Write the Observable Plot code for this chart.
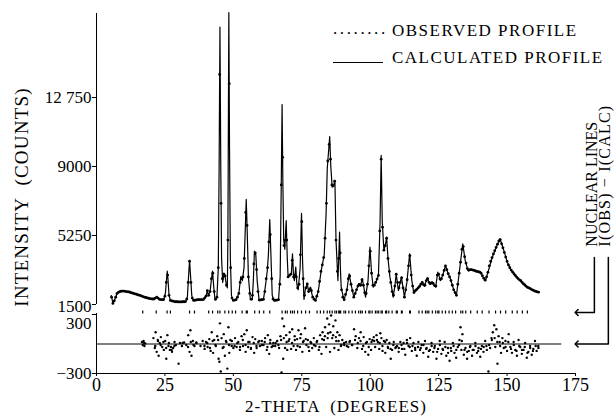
<!DOCTYPE html>
<html>
<head>
<meta charset="utf-8">
<script src="https://cdn.jsdelivr.net/npm/d3@7"></script>
<script src="https://cdn.jsdelivr.net/npm/@observablehq/plot@0.6"></script>
<style>
  html, body { margin: 0; padding: 0; background: #fff; }
  #chart { position: relative; width: 614px; height: 420px; font-family: "Liberation Serif", serif; color: #000; }
  #chart svg { position: absolute; left: 0; top: 0; background: transparent; }
  .leg { position: absolute; font-size: 17px; letter-spacing: 1.5px; line-height: 17px; white-space: pre; }
</style>
</head>
<body>
<div id="chart">
  <div class="leg" style="left:333px; top:20px; letter-spacing:2.6px;">........</div>
  <div class="leg" style="left:392px; top:22px;">OBSERVED PROFILE</div>
  <div style="position:absolute; left:333px; top:62px; width:50px; border-top:1px solid #000;"></div>
  <div class="leg" style="left:392px; top:49px;">CALCULATED PROFILE</div>
</div>
<script>
// ---- Data ----
// Calculated profile: [2-theta (deg), intensity (counts)]
const calcProfile = [
  [5.4,1990],[6.0,1560],[6.5,1700],[7.5,2100],[8.5,2200],[10.0,2230],[12.0,2180],[14.0,2080],
  [16.0,1990],[18.0,1880],[19.7,1810],[21.2,1800],[21.8,1900],[22.3,1880],[23.0,1780],[24.6,1760],
  [25.2,2150],[25.6,2900],[25.85,3310],[26.1,2900],[26.5,2000],[27.0,1720],[29.0,1650],[31.0,1640],
  [32.5,1660],[33.2,1900],[33.7,3200],[34.0,3890],[34.3,3200],[34.8,2000],[35.3,1720],[37.0,1760],
  [39.0,1770],[40.0,1950],[40.5,2260],[40.9,2000],[41.5,2200],[42.0,2900],[42.4,3310],[42.8,2500],
  [43.3,1750],[44.0,1900],[44.5,3500],[44.8,9000],[45.1,16570],[45.4,9000],[45.7,4000],[46.1,2700],
  [46.6,3200],[46.9,3100],[47.4,2600],[47.8,2400],[48.0,5000],[48.2,12000],[48.35,17370],[48.6,10000],
  [48.9,4000],[49.3,2000],[49.8,1720],[51.0,1760],[52.0,2100],[52.7,3000],[53.3,2800],[53.9,3500],
  [54.4,5800],[54.7,7210],[55.0,5800],[55.5,3000],[56.2,1800],[56.9,1760],[57.3,2800],[57.7,4400],
  [57.9,4300],[58.2,4200],[58.7,2800],[59.4,1740],[61.0,1780],[61.8,2600],[62.4,3350],[62.8,4200],
  [63.3,6120],[63.7,4300],[64.2,2000],[64.8,1720],[66.5,1760],[67.1,3000],[67.5,8000],[67.8,12370],
  [68.1,8000],[68.4,5000],[68.8,4500],[69.3,6065],[69.7,4000],[70.0,3000],[70.6,3100],[71.2,3200],
  [71.6,4255],[72.0,3000],[72.3,2800],[72.8,3530],[73.2,2600],[73.7,2300],[74.4,3500],[74.9,6460],
  [75.3,3800],[75.8,1780],[76.3,2300],[77.0,2625],[77.5,2200],[78.2,2440],[78.8,2000],[80.0,1720],
  [81.0,2200],[82.1,3350],[83.2,4200],[83.9,6500],[84.3,8875],[85.2,10630],[85.6,9000],[86.1,7875],
  [86.7,8000],[87.1,8240],[87.5,5000],[88.2,2800],[88.5,4000],[88.8,5430],[89.1,3500],[89.4,2440],
  [90.4,1720],[91.5,2300],[92.3,3170],[93.0,2600],[94.0,1900],[95.0,2300],[95.8,2625],[96.4,2500],
  [97.1,2900],[97.7,2400],[98.3,1900],[99.2,2800],[99.9,4615],[100.5,3200],[101.1,2440],[102.3,2800],
  [103.0,3080],[103.6,6000],[104.0,9600],[104.4,6000],[105.0,4435],[105.6,4800],[106.0,5160],[106.5,4000],
  [107.2,3000],[108.4,1900],[109.0,2500],[109.5,3170],[110.3,2260],[111.4,3000],[112.0,2400],[112.5,1900],
  [113.4,2700],[114.4,4255],[115.2,2800],[115.9,2150],[116.8,2300],[117.8,2440],[119.0,2710],[119.8,2480],
  [120.8,2950],[121.8,2600],[122.7,2710],[123.9,2440],[124.7,3255],[125.7,2800],[126.5,3100],[127.5,3620],
  [128.4,3200],[129.3,2900],[130.5,2300],[131.5,1990],[132.5,3200],[133.8,4800],[134.7,3900],[135.7,3350],
  [136.8,3400],[137.9,3350],[139.0,3300],[140.3,3255],[141.2,3000],[142.1,2800],[143.3,3400],[144.6,4070],
  [146.0,4600],[147.4,5070],[148.7,4500],[150.1,3800],[151.3,3400],[152.5,3170],[153.7,2950],[154.9,2800],
  [156.1,2600],[157.4,2440],[158.6,2350],[159.8,2260],[160.7,2200],[161.6,2170]
];

// Observed profile: counts on a 2-theta grid starting at 5.5 deg, 0.5 deg apart
const obsStart = 5.5;
const obsStep = 0.5;
const obsCounts = [
  1900,1560,1700,1900,2100,2160,2200,2220,2230,2230,   // 5.5 - 10.0
  2210,2200,2190,2180,2150,2130,2100,2080,2060,2030,   // 10.5 - 15.0
  2010,1990,1960,1930,1900,1880,1860,1840,1820,1810,   // 15.5 - 20.0
  1800,1800,1850,1900,1850,1780,1770,1760,1770,1950,   // 20.5 - 25.0
  2700,3100,2000,1720,1700,1680,1660,1650,1650,1640,   // 25.5 - 30.0
  1640,1640,1650,1650,1660,1800,2700,3850,2700,1850,   // 30.5 - 35.0
  1720,1730,1750,1760,1760,1770,1770,1770,1850,1950,   // 35.5 - 40.0
  2250,2000,2200,2900,3200,2200,1780,1900,3500,14000,  // 40.5 - 45.0
  7000,2900,3150,3050,2550,5000,13500,3500,1850,1720,  // 45.5 - 50.0
  1740,1760,1900,2100,2700,2950,3000,4000,6500,5800,   // 50.5 - 55.0
  3000,2100,1780,2000,3700,4300,3400,2200,1740,1750,   // 55.5 - 60.0
  1770,1780,2200,2900,3500,4900,5300,2900,1800,1720,   // 60.5 - 65.0
  1730,1740,1760,2600,8000,9500,4700,5000,5000,3000,   // 65.5 - 70.0
  3080,3150,3900,3000,3100,3000,2400,2600,4200,6000,   // 70.5 - 75.0
  2900,2000,2400,2620,2200,2350,2250,1900,1780,1720,   // 75.5 - 80.0
  1950,2200,2750,3300,3650,4050,5100,7000,9300,10200,  // 80.5 - 85.0
  9400,8000,7950,8200,5000,3300,4000,4300,2300,1900,   // 85.5 - 90.0
  1760,2050,2300,2900,3050,2600,2250,1900,2100,2300,   // 90.5 - 95.0
  2500,2590,2550,2850,2550,2150,2100,2600,3600,4400,   // 95.5 - 100.0
  3200,2550,2550,2700,2880,3080,5500,9400,5700,4450,   // 100.5 - 105.0
  4700,5100,4000,3300,2700,2200,2000,2500,3150,2700,   // 105.5 - 110.0
  2400,2700,2950,2400,1900,2300,2850,3600,4150,3100,   // 110.5 - 115.0
  2500,2150,2250,2320,2400,2480,2600,2700,2580,2550,   // 115.5 - 120.0
  2800,2900,2700,2630,2690,2640,2530,2500,3100,3150,   // 120.5 - 125.0
  2880,2900,3100,3350,3600,3400,3170,3000,2800,2550,   // 125.5 - 130.0
  2300,2140,2000,2600,3200,3800,4500,4650,4100,3750,   // 130.5 - 135.0
  3450,3360,3390,3400,3370,3350,3320,3300,3280,3260,   // 135.5 - 140.0
  3200,3060,2920,2820,3000,3250,3600,3850,4050,4250,   // 140.5 - 145.0
  4420,4600,4780,4950,5030,4800,4580,4330,4080,3840,   // 145.5 - 150.0
  3650,3500,3370,3270,3170,3080,2990,2910,2840,2790,   // 150.5 - 155.0
  2700,2620,2560,2490,2430,2400,2360,2310,2280,2240,   // 155.5 - 160.0
  2210,2190,2170                                       // 160.5 - 161.5
];

// Nuclear reflection positions (deg)
const nuclearLines = [
  16.9,21.8,25.8,27.0,34.0,35.8,41.0,42.4,44.3,45.1,46.9,48.3,49.6,50.8,53.2,54.7,55.1,57.8,59.5,61.1,
  63.3,67.8,69.0,69.7,70.9,71.6,72.3,73.5,74.9,76.4,77.8,80.6,81.8,83.0,84.3,85.2,86.1,87.1,87.7,88.5,
  88.8,89.2,90.4,91.0,92.2,93.4,94.6,95.8,96.5,97.1,98.3,99.5,99.9,100.7,101.9,102.5,103.1,104.0,104.4,
  105.6,106.0,106.8,108.0,109.5,109.9,111.4,111.7,114.4,114.7,117.8,119.0,120.2,120.8,121.4,122.7,123.9,
  124.7,125.1,126.3,127.5,128.8,130.0,131.2,133.1,133.8,134.9,136.7,139.1,140.9,143.4,145.8,147.6,149.5,
  151.9,153.7,155.6,157.4
];

// Difference I(obs) - I(calc): [2-theta (deg), counts]
const residuals = [
  [16.6,20],[16.9,-10],[17.2,30],[17.5,-20],[17.8,5],[17.4,10],
  [20.8,60],[21.3,-40],[21.6,120],[22.0,-80],[22.4,40],[22.7,-120],[23.1,10],[23.5,70],[24.0,-30],
  [24.6,-60],[25.1,30],[25.5,-150],[25.9,90],[26.3,-20],[26.8,-60],[27.2,-30],[27.6,-80],[28.0,-40],[28.5,20],[29.0,-10],
  [30.0,-200],[30.5,10],[31.2,-20],[32.0,15],[32.8,-10],
  [33.5,90],[34.0,-80],[34.3,140],[34.7,-120],[35.2,30],[35.8,-20],[36.5,10],
  [38.0,-20],[38.8,30],[39.5,-50],[40.0,20],[40.6,-30],[41.2,50],[41.7,-70],[42.1,120],[42.6,-90],[43.0,40],[43.6,-20],[44.1,80],
  [44.6,-150],[44.9,-180],[45.1,210],[45.4,-280],[45.7,60],[46.1,-40],[46.5,100],[46.9,-120],[47.3,30],[47.8,-250],[48.2,170],[48.5,-90],[48.9,40],[49.4,-20],
  [50.0,-40],[50.6,60],[51.2,-30],[51.8,20],[52.4,-60],[53.0,80],[53.5,-20],[54.0,100],[54.5,-80],[54.9,140],[55.4,-30],[55.9,20],[56.4,-50],
  [57.0,70],[57.6,-90],[58.0,50],[58.5,-40],[59.1,20],[59.7,-20],[60.4,30],[61.0,-10],[61.6,60],[62.2,-60],[62.6,90],[63.1,-100],[63.5,40],[64.0,-30],[64.6,10],
  [65.3,-20],[66.0,30],[66.7,-40],[67.2,80],[67.6,-290],[67.9,260],[68.2,-150],[68.5,180],[68.9,-40],[69.3,90],[69.7,-60],[70.2,30],
  [70.6,120],[71.1,-50],[71.5,150],[72.0,-20],[72.4,80],[72.9,-60],[73.3,50],[73.8,140],[74.3,-30],[74.7,100],[75.2,-80],[75.7,30],[76.2,160],[76.7,-10],[77.2,40],[77.7,-70],[78.2,20],[78.8,-40],[79.4,60],[80.0,-20],
  [80.6,30],[81.2,-60],[81.7,90],[82.2,-100],[82.6,120],[83.1,40],[83.5,170],[83.9,-30],[84.3,260],[84.6,110],[85.0,200],[85.3,-80],[85.7,290],[86.1,60],[86.5,180],[86.9,-40],[87.3,240],[87.6,30],[88.0,120],[88.4,-60],[88.8,90],[89.3,-20],[89.8,40],
  [90.5,-10],[91.2,20],[92.0,-30],[92.6,30],[93.3,-10],[94.1,150],[94.7,80],[95.3,-40],[95.9,60],[96.5,120],[97.0,-50],[97.6,70],[98.2,-80],[98.8,20],[99.3,-110],[99.8,50],
  [100.3,-60],[100.8,40],[101.3,70],[101.8,-30],[102.3,90],[102.8,20],[103.3,-50],[103.7,110],[104.1,60],[104.5,-70],[105.0,30],[105.5,-90],[106.0,40],[106.5,-40],[107.0,10],[107.5,-150],[108.0,-60],[108.6,20],[109.2,-40],[109.8,-20],
  [110.4,-80],[111.0,20],[111.6,-50],[112.2,10],[112.8,-110],[113.4,40],[114.0,-20],[114.6,60],[115.2,-70],[115.8,10],[116.4,-40],[117.0,-120],[117.6,20],[118.2,-60],[118.8,-10],[119.4,-90],[120.0,30],
  [120.6,-40],[121.2,-130],[121.8,-60],[122.4,10],[123.0,-80],[123.6,-20],[124.2,-150],[124.8,-50],[125.4,30],[126.0,-100],[126.6,-60],[127.2,20],[127.8,-120],[128.4,-40],[129.0,-170],[129.6,-70],[130.2,10],
  [130.8,-90],[131.4,-140],[132.0,-30],[132.6,40],[133.0,170],[133.3,-60],[133.7,100],[134.2,-110],[134.8,-40],[135.4,-150],[136.0,-70],[136.6,-20],[137.2,-120],[137.8,-60],[138.4,10],[139.0,-90],[139.6,-40],
  [140.2,-130],[140.8,-20],[141.4,-80],[142.0,30],[142.6,-60],[143.2,-280],[143.8,-40],[144.3,60],[144.8,120],[145.3,190],[145.7,-30],[146.1,150],[146.5,-200],[146.9,80],[147.3,20],[147.8,-90],[148.3,60],[148.8,-40],[149.4,30],[150.0,-70],
  [150.6,100],[151.2,-30],[151.8,-90],[152.4,20],[153.0,-60],[153.6,-120],[154.2,40],[154.8,-30],[155.4,-100],[156.0,-60],[156.6,10],[157.2,-140],[157.8,-80],[158.4,-20],[159.0,-110],[159.6,-50],[160.2,30],[160.8,-70],[161.4,-20],
  // dense band close to zero
  [21.45,-20],[22.45,30],[23.45,-10],[24.45,20],[25.45,-40],[26.45,10],[27.45,-60],[28.45,-20],[31.45,10],[33.45,-30],
  [34.45,20],[35.45,-10],[36.45,15],[39.45,-20],[40.45,10],[41.45,-40],[42.45,30],[43.45,-10],[44.45,40],[46.45,-30],
  [47.45,20],[48.45,-10],[49.45,30],[50.45,-20],[51.45,10],[52.45,-30],[53.45,40],[54.45,-10],[55.45,20],[56.45,-40],
  [57.45,10],[58.45,-20],[59.45,30],[60.45,-10],[61.45,20],[62.45,-30],[63.45,10],[64.45,-20],[65.45,10],[66.45,-10],
  [67.45,40],[68.45,60],[69.45,20],[70.45,50],[71.45,10],[72.45,40],[73.45,-20],[74.45,60],[75.45,20],[76.45,50],
  [77.45,-30],[78.45,10],[79.45,-10],[80.45,20],[81.45,-30],[82.45,50],[83.45,80],[84.45,60],[85.45,120],[86.45,90],
  [87.45,70],[88.45,30],[89.45,-10],[90.45,10],[91.45,-20],[92.45,20],[93.45,-10],[94.45,40],[95.45,10],[96.45,30],
  [97.45,-20],[98.45,10],[99.45,-30],[100.45,20],[101.45,30],[102.45,40],[103.45,10],[104.45,-20],[105.45,20],[106.45,-30],
  [107.45,-50],[108.45,-10],[109.45,-30],[110.45,-40],[111.45,-10],[112.45,-50],[113.45,10],[114.45,-30],[115.45,-20],[116.45,-60],
  [117.45,-30],[118.45,-40],[119.45,-10],[120.45,-50],[121.45,-70],[122.45,-20],[123.45,-40],[124.45,-80],[125.45,-10],[126.45,-50],
  [127.45,-30],[128.45,-90],[129.45,-40],[130.45,-20],[131.45,-60],[132.45,-10],[133.45,30],[134.45,-60],[135.45,-80],[136.45,-30],
  [137.45,-60],[138.45,-20],[139.45,-70],[140.45,-50],[141.45,-30],[142.45,-20],[143.45,-10],[144.45,40],[145.45,60],[146.45,20],
  [147.45,-20],[148.45,10],[149.45,-30],[150.45,20],[151.45,-50],[152.45,-10],[153.45,-70],[154.45,-20],[155.45,-60],[156.45,-30],
  [157.45,-90],[158.45,-40],[159.45,-70],[160.45,-20],[161.45,-40]
];

// Tick values and labels
const xTicks = [0, 25, 50, 75, 100, 125, 150, 175];
const intensityTicks = [1500, 5250, 9000, 12750];
const intensityTickLabels = ["1500", "5250", "9000", "12 750"];
const residualTicks = [-300, 300];
const residualTickLabels = ["\u2212300", "300"];

// ---- Build ----
const observed = obsCounts.map((c, i) => [obsStart + i * obsStep, c]);
const font = {fontFamily: "Liberation Serif, serif", fontSize: "17px", color: "#000", background: "transparent", overflow: "visible"};

const upperPlot = Plot.plot({
  width: 614, height: 420,
  marginLeft: 96, marginRight: 39, marginTop: 13, marginBottom: 116,
  style: font,
  x: {domain: [0, 175], axis: null},
  y: {domain: [1500, 17315], axis: null},
  marks: [
    Plot.ruleX([0], {y1: 1500, y2: 17315, stroke: "#000"}),
    Plot.ruleY(intensityTicks, {y: d => d, x1: -1.5, x2: 0, stroke: "#000"}),
    Plot.text(intensityTicks, {x: 0, y: d => d, text: (d, i) => intensityTickLabels[i], textAnchor: "end", dx: -5, fontSize: 17, fill: "#000"}),
    Plot.line(calcProfile, {x: d => d[0], y: d => d[1], stroke: "#000", strokeWidth: 1.2}),
    Plot.dot(observed, {x: d => d[0], y: d => d[1], r: 1.4, fill: "#000", stroke: "none"}),
    Plot.text(["INTENSITY  (COUNTS)"], {text: d => d, frameAnchor: "left", textAnchor: "middle", rotate: -90, dx: -75, dy: 38, fontSize: 19, fill: "#000"})
  ]
});

const lowerPlot = Plot.plot({
  width: 614, height: 420,
  marginLeft: 96, marginRight: 39, marginTop: 314, marginBottom: 47,
  style: font,
  x: {domain: [0, 175], axis: null},
  y: {domain: [-300, 300], axis: null},
  marks: [
    Plot.ruleX([0], {y1: -310, y2: 310, stroke: "#000"}),
    Plot.ruleY([-300], {x1: 0, x2: 175, stroke: "#000"}),
    Plot.ruleY([0], {x1: 0, x2: 170, stroke: "#000"}),
    Plot.ruleY(residualTicks, {y: d => d, x1: -1.5, x2: 0, stroke: "#000"}),
    Plot.text(residualTicks, {x: 0, y: d => d, text: (d, i) => residualTickLabels[i], textAnchor: "end", dx: -5, fontSize: 17, fill: "#000"}),
    Plot.axisX({ticks: xTicks, tickSize: 3, tickPadding: 2, label: null, stroke: "#000", fontSize: 18}),
    Plot.ruleX(nuclearLines, {x: d => d, y1: 305, y2: 335, stroke: "#000", strokeWidth: 1.2}),
    Plot.dot(residuals, {x: d => d[0], y: d => d[1], r: 1.2, fill: "#000", stroke: "none"}),
    Plot.text(["2-THETA  (DEGREES)"], {text: d => d, frameAnchor: "bottom", dy: 38, fontSize: 17, fill: "#000"}),
    // right-hand annotations
    Plot.line([[181.9, 880], [181.9, 320], [175.4, 320]], {stroke: "#000", markerEnd: "arrow"}),
    Plot.line([[187.0, 880], [187.0, 0], [175.4, 0]], {stroke: "#000", markerEnd: "arrow"}),
    Plot.text(["NUCLEAR LINES"], {text: d => d, x: 180.9, y: 990, rotate: -90, textAnchor: "start", fontSize: 16, fill: "#000"}),
    Plot.text(["I(OBS) \u2212 I(CALC)"], {text: d => d, x: 185.6, y: 990, rotate: -90, textAnchor: "start", fontSize: 16, fill: "#000"})
  ]
});

// spacing of the scanned lettering
for (const t of upperPlot.querySelectorAll("text")) {
  if (t.textContent.startsWith("INTENSITY")) t.setAttribute("letter-spacing", "1.2");
  if (t.textContent === "1500") t.setAttribute("dy", "0.12em");
}
for (const t of lowerPlot.querySelectorAll("text")) {
  if (t.textContent.startsWith("2-THETA")) t.setAttribute("letter-spacing", "1");
  if (t.textContent.startsWith("I(OBS)")) t.setAttribute("letter-spacing", "1.2");
  if (t.textContent === "300") t.setAttribute("dy", "0.55em");
}

const chart = document.getElementById("chart");
chart.appendChild(upperPlot);
chart.appendChild(lowerPlot);
</script>
</body>
</html>
